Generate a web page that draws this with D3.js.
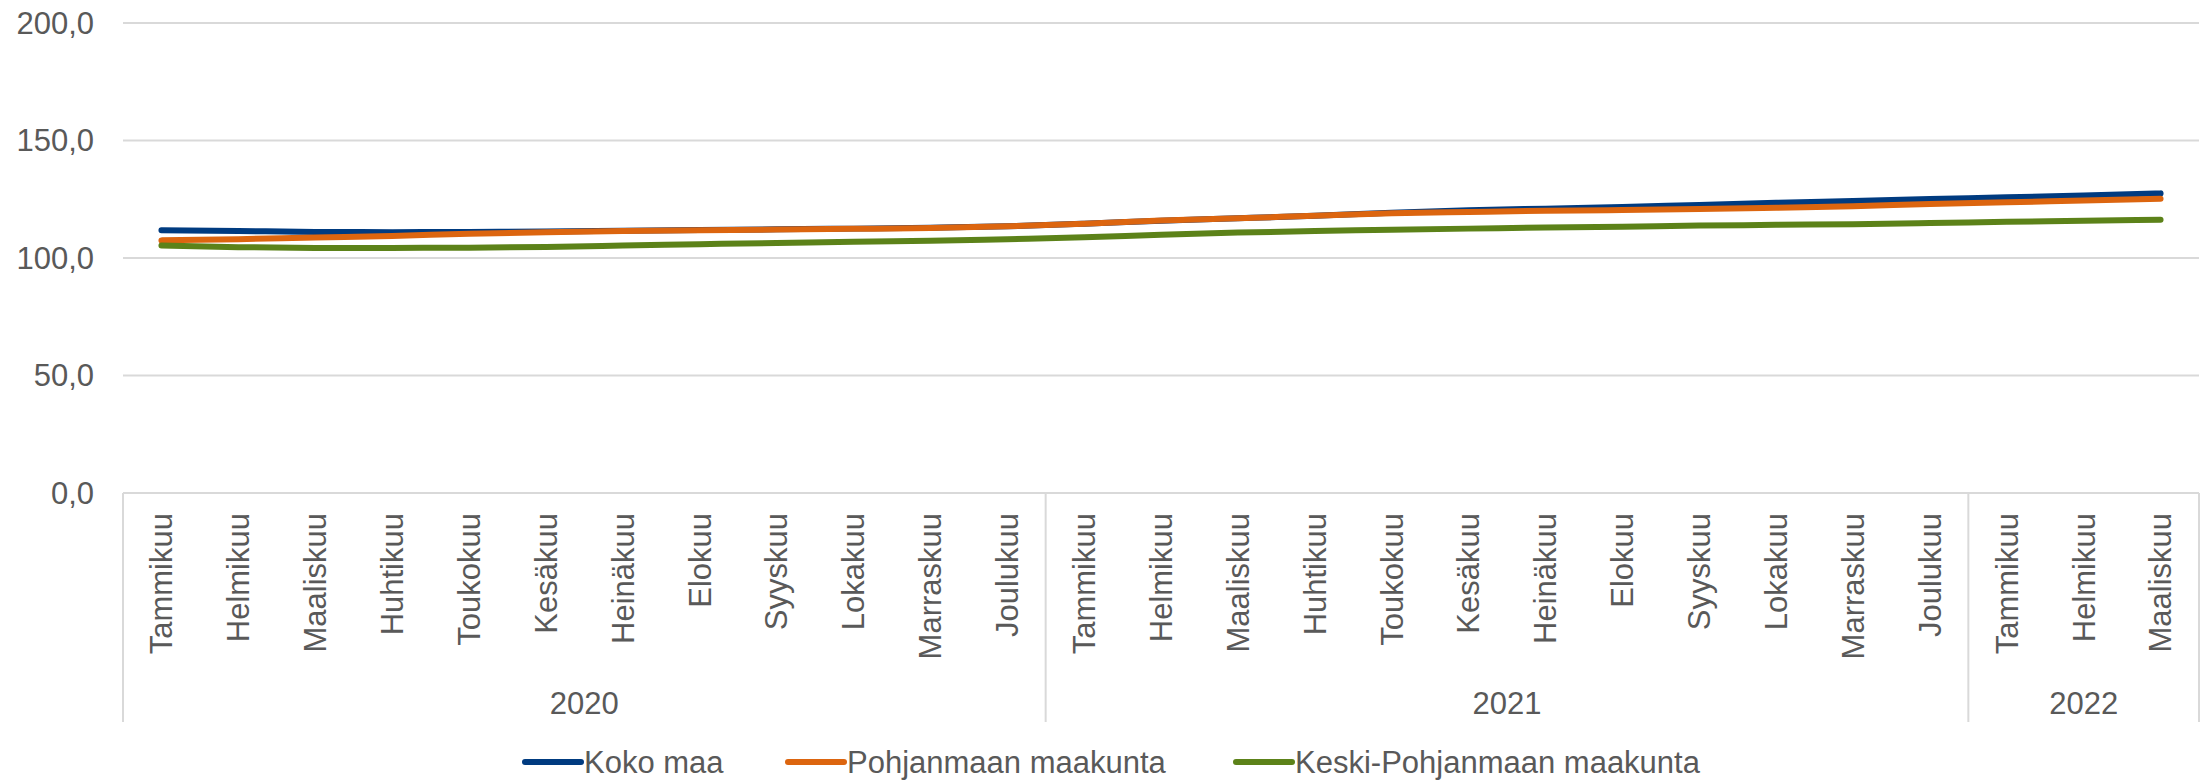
<!DOCTYPE html>
<html>
<head>
    <meta charset="utf-8">
    <title>Koko maa / Pohjanmaa / Keski-Pohjanmaa</title>
    <script src="https://d3js.org/d3.v7.min.js"></script>
    <style>
        body {
            margin: 0;
            background: #fff;
            font-family: "Liberation Sans", Arial, sans-serif;
        }
        .grid line {
            stroke: #d9d9d9;
            stroke-width: 2px;
        }
        .tick-label, .month-label, .year-label, .legend-label {
            fill: #595959;
            font-size: 31px;
        }
        .series {
            fill: none;
            stroke-width: 6px;
            stroke-linecap: round;
            stroke-linejoin: round;
        }
    </style>
</head>
<body>
    <svg id="chart" width="2211" height="781"></svg>

    <script>
        // kuukaudet ja vuodet
        const months = ["Tammikuu", "Helmikuu", "Maaliskuu", "Huhtikuu", "Toukokuu", "Kesäkuu",
                        "Heinäkuu", "Elokuu", "Syyskuu", "Lokakuu", "Marraskuu", "Joulukuu"];
        const years = ["2020", "2021", "2022"];
        const monthsPerYear = [12, 12, 3];

        const seriesNames = ["Koko maa", "Pohjanmaan maakunta", "Keski-Pohjanmaan maakunta"];
        const seriesColors = ["#003b80", "#dc650f", "#5c8219"];

        // arvot luettu kuvasta (Tammikuu 2020 - Maaliskuu 2022)
        const kokoMaa = [111.8, 111.5, 111.1, 111.0, 111.1, 111.3, 111.6, 111.9, 112.2, 112.5, 112.9, 113.5,
                         114.6, 115.9, 116.9, 118.0, 119.3, 120.3, 121.0, 121.7, 122.6, 123.5, 124.3, 125.1,
                         125.8, 126.6, 127.5];
        const pohjanmaa = [107.5, 108.0, 108.7, 109.4, 110.3, 111.0, 111.5, 111.8, 112.1, 112.4, 112.8, 113.5,
                           114.6, 116.0, 116.9, 118.0, 119.0, 119.6, 120.1, 120.4, 120.8, 121.4, 122.0, 123.0,
                           123.7, 124.5, 125.2];
        const keskiPohjanmaa = [105.3, 104.6, 104.3, 104.3, 104.4, 104.7, 105.3, 105.9, 106.4, 106.9, 107.3, 108.0,
                                108.8, 109.9, 110.8, 111.5, 112.0, 112.5, 113.0, 113.3, 113.8, 114.1, 114.4, 114.9,
                                115.4, 115.9, 116.3];
        const yTicks = [0, 50, 100, 150, 200];

        // kategoriat: yksi jokaiselle kuukaudelle
        const categories = [];
        years.forEach((yr, yi) => {
            for (let m = 0; m < monthsPerYear[yi]; m++) {
                categories.push({key: yr + "-" + m, year: yr, month: months[m]});
            }
        });

        const svg = d3.select("#chart");
        const plotLeft = 123, plotRight = 2199, plotTop = 23, plotBottom = 493;

        const x = d3.scaleBand()
            .domain(categories.map(d => d.key))
            .range([plotLeft, plotRight])
            .padding(0);
        const y = d3.scaleLinear()
            .domain([0, 200])
            .range([plotBottom, plotTop]);

        const fi = d3.formatLocale({decimal: ",", thousands: " ", grouping: [3], currency: ["", "€"]});
        const fmt = fi.format(".1f");

        // vaakaviivat
        svg.append("g")
            .attr("class", "grid")
            .selectAll("line")
            .data(yTicks)
            .enter()
            .append("line")
            .attr("x1", plotLeft)
            .attr("x2", plotRight)
            .attr("y1", d => y(d))
            .attr("y2", d => y(d));

        // y-akselin arvot
        svg.selectAll(".tick-label")
            .data(yTicks)
            .enter()
            .append("text")
            .attr("class", "tick-label")
            .attr("x", 94)
            .attr("y", d => y(d))
            .attr("dy", "0.35em")
            .attr("text-anchor", "end")
            .text(d => fmt(d));

        // ryhmien erottimet (vuodet)
        const groupEdges = [0];
        monthsPerYear.reduce((acc, n) => { groupEdges.push(acc + n); return acc + n; }, 0);
        const edgeX = i => i >= categories.length ? plotRight : x(categories[i].key);

        svg.append("g")
            .attr("class", "grid")
            .selectAll("line")
            .data(groupEdges)
            .enter()
            .append("line")
            .attr("x1", d => edgeX(d))
            .attr("x2", d => edgeX(d))
            .attr("y1", plotBottom)
            .attr("y2", 722);

        // kuukausien nimet pystyyn
        svg.selectAll(".month-label")
            .data(categories)
            .enter()
            .append("text")
            .attr("class", "month-label")
            .attr("transform", d => `translate(${x(d.key) + x.bandwidth() / 2},513) rotate(-90)`)
            .attr("dy", "0.35em")
            .attr("text-anchor", "end")
            .text(d => d.month);

        // vuodet
        svg.selectAll(".year-label")
            .data(years)
            .enter()
            .append("text")
            .attr("class", "year-label")
            .attr("x", (d, i) => (edgeX(groupEdges[i]) + edgeX(groupEdges[i + 1])) / 2)
            .attr("y", 703)
            .attr("dy", "0.35em")
            .attr("text-anchor", "middle")
            .text(d => d);

        // sarjat (järjestyksessä, viimeinen päällimmäiseksi)
        const allSeries = [kokoMaa, pohjanmaa, keskiPohjanmaa];
        const line = d3.line()
            .x((d, i) => x(categories[i].key) + x.bandwidth() / 2)
            .y(d => y(d))
            .curve(d3.curveMonotoneX);

        allSeries.forEach((vals, s) => {
            svg.append("path")
                .attr("class", "series")
                .attr("d", line(vals))
                .attr("stroke", seriesColors[s]);
        });

        // selite
        const legendX = [525, 788, 1236];
        const legend = svg.selectAll(".legend")
            .data(seriesNames)
            .enter()
            .append("g")
            .attr("class", "legend")
            .attr("transform", (d, i) => `translate(${legendX[i]},762)`);

        legend.append("line")
            .attr("x1", 0)
            .attr("x2", 56)
            .attr("stroke", (d, i) => seriesColors[i])
            .attr("stroke-width", 6)
            .attr("stroke-linecap", "round");

        legend.append("text")
            .attr("class", "legend-label")
            .attr("x", 59)
            .attr("dy", "0.35em")
            .text(d => d);
    </script>
</body>
</html>
